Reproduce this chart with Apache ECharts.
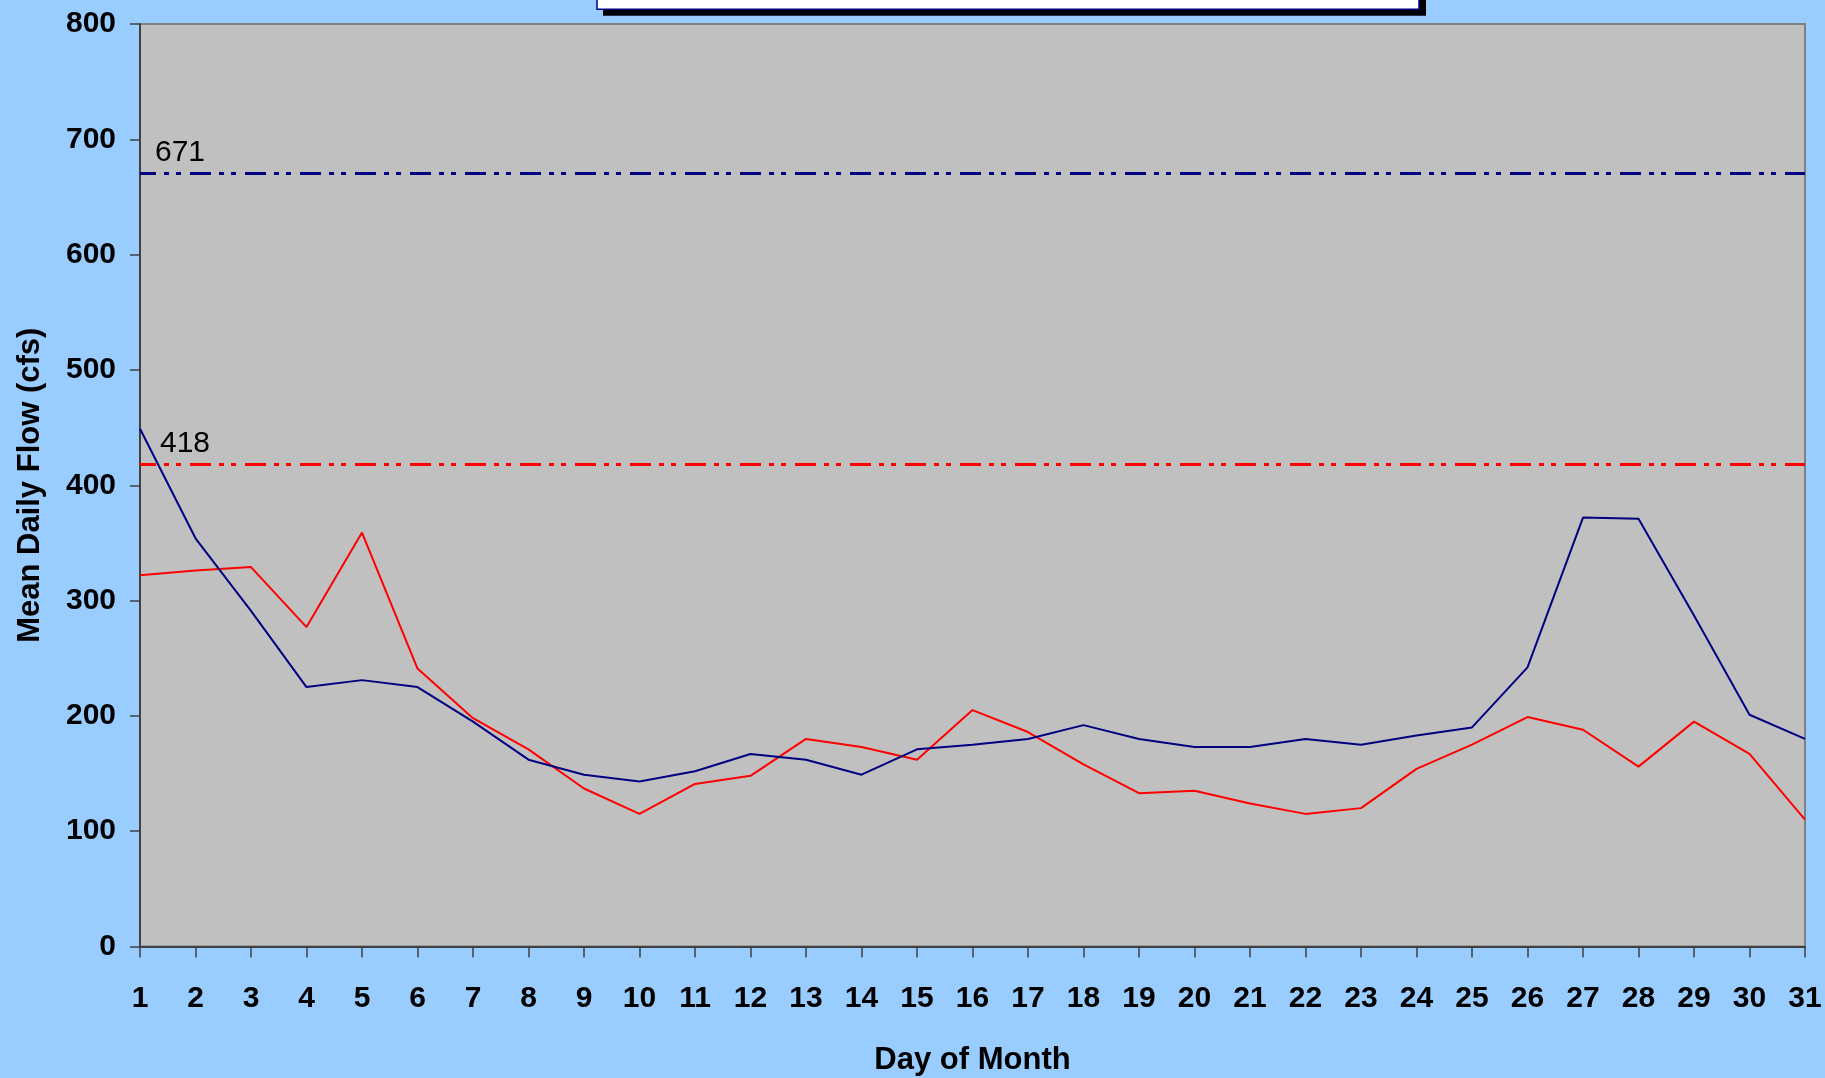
<!DOCTYPE html>
<html>
<head>
<meta charset="utf-8">
<script src="https://cdn.jsdelivr.net/npm/echarts@6/dist/echarts.min.js"></script>
<style>
html,body{margin:0;padding:0;background:#99CCFF;}
#chart{width:1825px;height:1078px;}
</style>
</head>
<body>
<div id="chart"></div>
<script>
var days = ['1','2','3','4','5','6','7','8','9','10','11','12','13','14','15','16','17','18','19','20','21','22','23','24','25','26','27','28','29','30','31'];
var meanFlowNavy = [449, 354, 291, 225, 231, 225, 195, 162, 149, 143, 152, 167, 162, 149, 171, 175, 180, 192, 180, 173, 173, 180, 175, 183, 190, 242, 372, 371, 287, 201, 180];
var meanFlowRed = [322, 326, 329, 277, 359, 241, 198, 171, 137, 115, 141, 148, 180, 173, 162, 205, 186, 158, 133, 135, 124, 115, 120, 154, 175, 199, 188, 156, 195, 167, 110];
var refNavy = 671;
var refRed = 418;
var yTicks = {min: 0, max: 800, interval: 100};

var FONT = 'Arial, "Liberation Sans", sans-serif';
var dashPattern = [21, 8, 5, 7, 5, 9];

var chart = echarts.init(document.getElementById('chart'), null, {renderer: 'canvas'});
chart.setOption({
  backgroundColor: '#99CCFF',
  animation: false,
  grid: {
    left: 140, right: 20, top: 24, bottom: 131.5,
    containLabel: false,
    outerBoundsMode: 'none',
    show: true, backgroundColor: '#C0C0C0', borderColor: '#808080', borderWidth: 2
  },
  xAxis: {
    type: 'category',
    data: days,
    boundaryGap: false,
    name: 'Day of Month',
    nameLocation: 'middle',
    nameGap: 98,
    nameMoveOverlap: false,
    nameTextStyle: {fontFamily: FONT, fontWeight: 'bold', fontSize: 31, color: '#000'},
    axisLine: {lineStyle: {color: '#404040', width: 2}},
    axisTick: {show: true, length: 11, interval: 0, lineStyle: {color: '#404040', width: 1.5}},
    axisLabel: {interval: 0, margin: 37, fontFamily: FONT, fontWeight: 'bold', fontSize: 30, color: '#000'},
    splitLine: {show: false}
  },
  yAxis: {
    type: 'value',
    min: yTicks.min, max: yTicks.max, interval: yTicks.interval,
    name: 'Mean Daily Flow (cfs)',
    nameLocation: 'middle',
    nameRotate: 90,
    nameGap: 94,
    nameMoveOverlap: false,
    nameTextStyle: {fontFamily: FONT, fontWeight: 'bold', fontSize: 31, color: '#000'},
    axisLine: {show: true, lineStyle: {color: '#404040', width: 2}},
    axisTick: {show: true, length: 10, lineStyle: {color: '#404040', width: 1.5}},
    axisLabel: {margin: 24, fontFamily: FONT, fontWeight: 'bold', fontSize: 30, color: '#000'},
    splitLine: {show: false}
  },
  series: [
    {
      type: 'line',
      data: meanFlowNavy,
      symbol: 'none',
      lineStyle: {color: '#000080', width: 2},
      z: 3,
      markLine: {
        silent: true,
        symbol: ['none', 'none'],
        data: [{yAxis: refNavy}],
        lineStyle: {color: '#000080', width: 3, type: dashPattern, dashOffset: 5},
        label: {show: true, position: 'insideStartTop', distance: [15, 5], formatter: String(refNavy),
                fontFamily: FONT, fontSize: 30, color: '#000'}
      }
    },
    {
      type: 'line',
      data: meanFlowRed,
      symbol: 'none',
      lineStyle: {color: '#FF0000', width: 2},
      z: 2,
      markLine: {
        silent: true,
        symbol: ['none', 'none'],
        data: [{yAxis: refRed}],
        lineStyle: {color: '#FF0000', width: 3, type: dashPattern, dashOffset: 5},
        label: {show: true, position: 'insideStartTop', distance: [20, 6], formatter: String(refRed),
                fontFamily: FONT, fontSize: 30, color: '#000'}
      }
    }
  ],
  graphic: [
    {type: 'rect', shape: {x: 603, y: -10, width: 823, height: 25.7}, style: {fill: '#000000'}, z: 10},
    {type: 'rect', shape: {x: 597, y: -10, width: 822, height: 19.3}, style: {fill: '#FFFFFF', stroke: '#000080', lineWidth: 1.5}, z: 11}
  ]
});
</script>
</body>
</html>
